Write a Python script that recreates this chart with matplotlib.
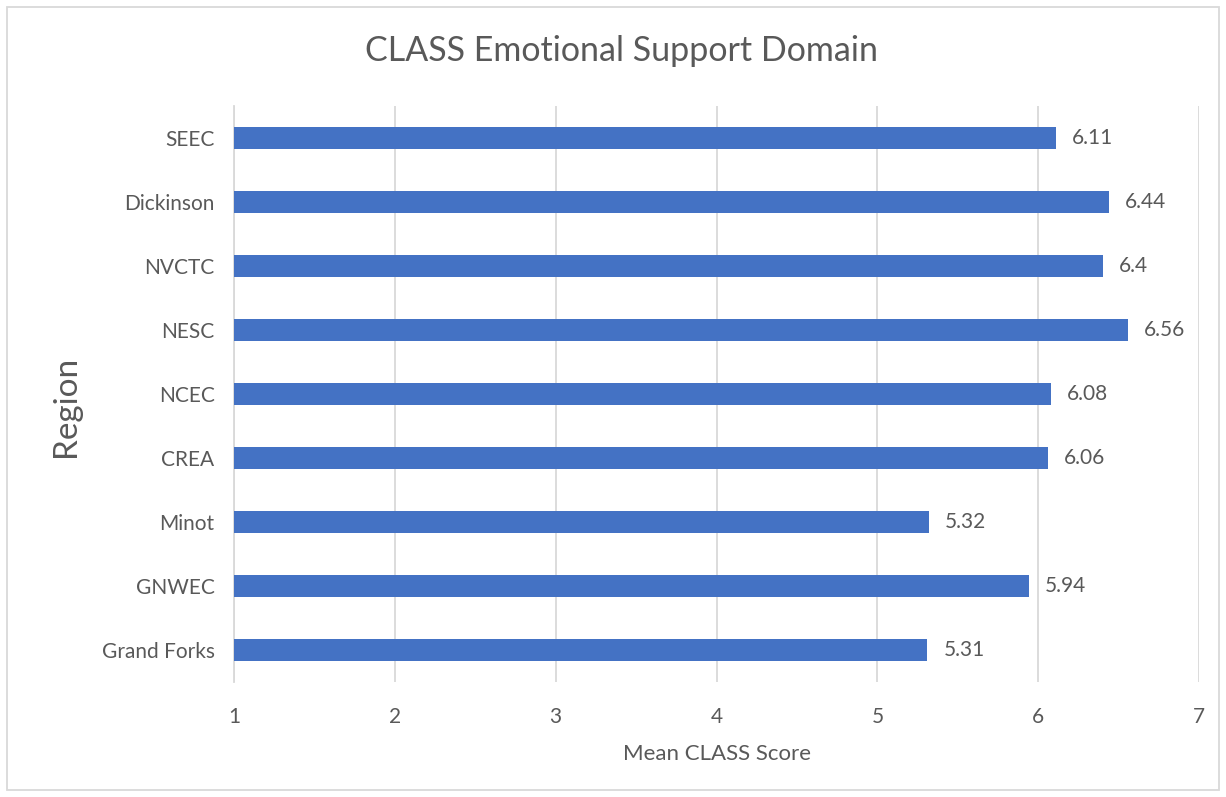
import matplotlib
matplotlib.use("Agg")
import matplotlib.pyplot as plt
from matplotlib.patches import Rectangle

# regions listed bottom -> top, as drawn on the y axis
regions = ["Grand Forks", "GNWEC", "Minot", "CREA", "NCEC",
           "NESC", "NVCTC", "Dickinson", "SEEC"]
scores = [5.31, 5.94, 5.32, 6.06, 6.08, 6.56, 6.4, 6.44, 6.11]
score_labels = ["5.31", "5.94", "5.32", "6.06", "6.08", "6.56", "6.4", "6.44", "6.11"]
x_ticks = [1, 2, 3, 4, 5, 6, 7]

BAR = "#4472C4"
TXT = "#595959"
GRID = "#D9D9D9"

plt.rcParams["font.family"] = ["Lato", "DejaVu Sans"]

fig = plt.figure(figsize=(12.26, 7.97), dpi=100)
ax = fig.add_axes([0.1909, 0.1443, 0.7871, 0.7227])

y = list(range(len(regions)))
ax.barh(y, [s - 1 for s in scores], left=1, height=0.35, color=BAR, zorder=3)
for yi, s, lab in zip(y, scores, score_labels):
    ax.text(s + 0.1, yi, lab, va="center", ha="left", fontsize=15, color=TXT)

ax.set_xlim(1, 7)
ax.set_ylim(-0.5, len(regions) - 0.5)
ax.set_xticks(x_ticks)
ax.set_yticks(y)
ax.set_yticklabels(regions)
ax.tick_params(axis="both", length=0, labelsize=15, colors=TXT)
ax.tick_params(axis="x", pad=18)
ax.tick_params(axis="y", pad=14)
ax.grid(axis="x", color=GRID, lw=1.3, zorder=0)
for side in ["top", "right", "bottom"]:
    ax.spines[side].set_visible(False)
ax.spines["left"].set_color(GRID)
ax.spines["left"].set_linewidth(1.3)

ax.set_xlabel("Mean CLASS Score", fontsize=16, color=TXT, labelpad=12)
fig.text(0.054, 0.49, "Region", rotation=90, fontsize=24, color=TXT,
         ha="center", va="center")
fig.text(0.507, 0.936, "CLASS Emotional Support Domain", fontsize=24.5,
         color=TXT, ha="center", va="center")

# light frame round the whole chart
fig.patches.append(Rectangle((0.006, 0.009), 0.988, 0.982, transform=fig.transFigure,
                             fill=False, edgecolor=GRID, lw=1.3))

fig.savefig("out.png", dpi=100)
